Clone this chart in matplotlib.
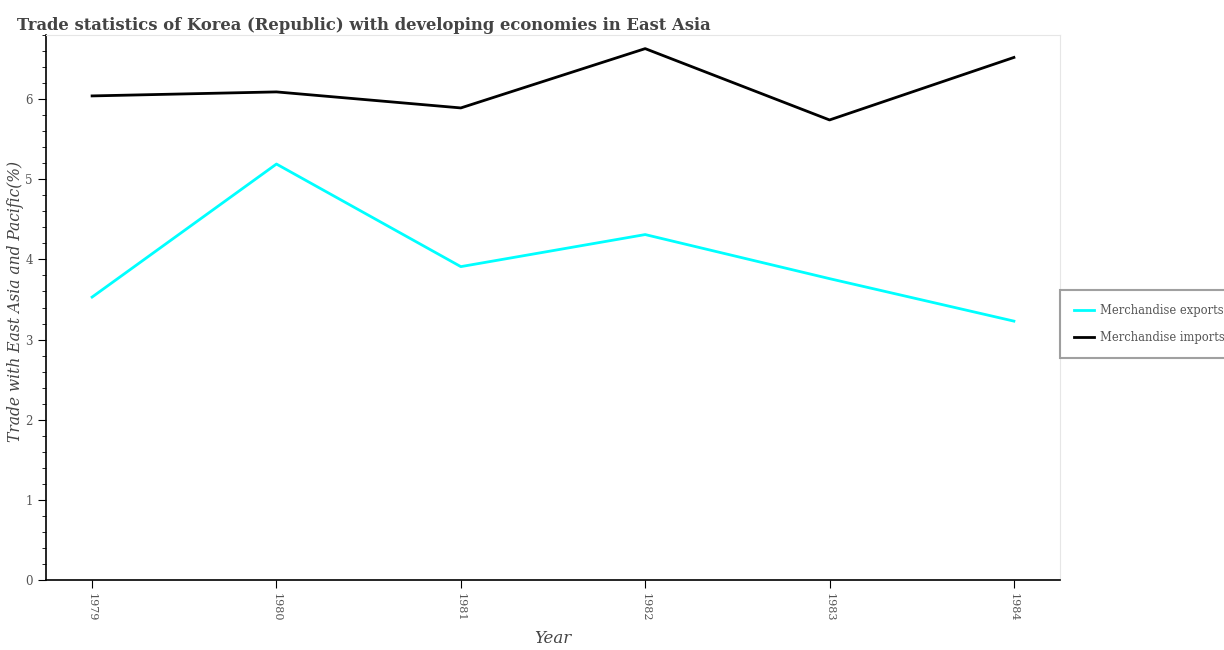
import matplotlib.pyplot as plt
from matplotlib.ticker import MultipleLocator

# 年と貿易データ
years = [1979, 1980, 1981, 1982, 1983, 1984]
exports = [3.53, 5.19, 3.91, 4.31, 3.76, 3.23]
imports = [6.04, 6.09, 5.89, 6.63, 5.74, 6.52]

plt.rcParams['font.family'] = ['DejaVu Serif']

W, H = 1224, 650
fig = plt.figure(figsize=(W / 100, H / 100), dpi=100)
ax = fig.add_axes([46 / W, 1 - 580 / H, (1060 - 46) / W, (580 - 35) / H])

ax.plot(years, exports, color='#00ffff', lw=2, label='Merchandise exports')
ax.plot(years, imports, color='black', lw=2, label='Merchandise imports')

ax.set_xlim(1978.75, 1984.25)
ax.set_ylim(0, 6.80)
ax.set_xticks(years)
ax.set_xticklabels([str(y) for y in years], rotation=270, color='#555555', fontsize=8)
ax.yaxis.set_major_locator(MultipleLocator(1))
ax.yaxis.set_minor_locator(MultipleLocator(0.2))
ax.tick_params(axis='y', labelcolor='#555555', labelsize=8.5)
ax.tick_params(which='major', length=6)
ax.tick_params(which='minor', length=3)

for s in ['top', 'right']:
    ax.spines[s].set_color('#e6e6e6')
for s in ['left', 'bottom']:
    ax.spines[s].set_color('black')
    ax.spines[s].set_linewidth(1.2)

ax.set_xlabel('Year', fontsize=12, style='italic', color='#444444', labelpad=6)
ax.set_ylabel('Trade with East Asia and Pacific(%)', fontsize=11.2, style='italic',
              color='#444444')
ax.yaxis.set_label_coords(-22 / 1014, (580 - 302) / 545)
fig.text(364 / W, 1 - 25 / H,
         'Trade statistics of Korea (Republic) with developing economies in East Asia',
         ha='center', va='center', fontsize=11.8, fontweight='bold', color='#444444')

leg = fig.legend(loc='center left', bbox_to_anchor=(1060 / W, 1 - 324 / H),
                 frameon=True, fancybox=False, fontsize=8.3, labelcolor='#555555',
                 borderpad=1.25, handlelength=1.7, handletextpad=0.55,
                 labelspacing=1.2, borderaxespad=0)
leg.get_frame().set_edgecolor('#888888')
leg.get_frame().set_linewidth(1.5)

fig.savefig('out.png', dpi=100)
